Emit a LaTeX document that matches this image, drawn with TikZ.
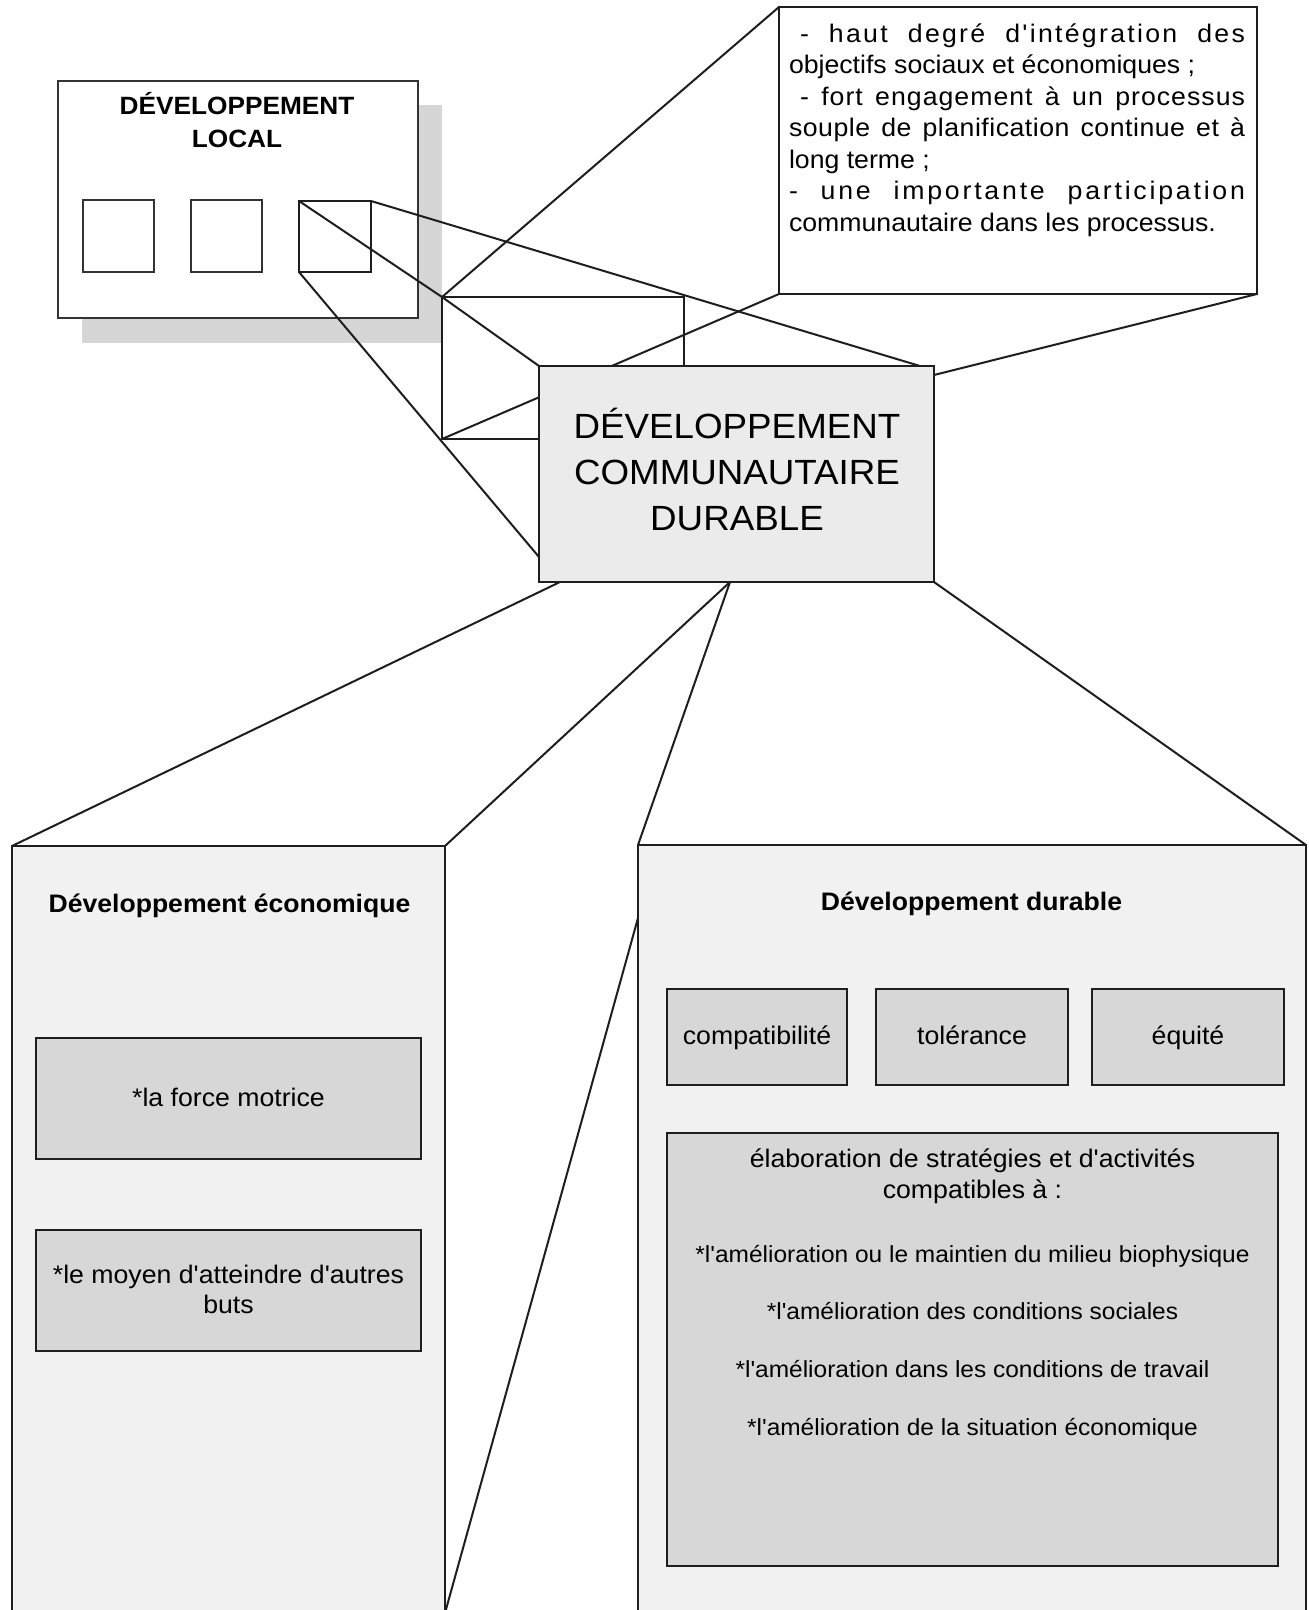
\documentclass[tikz,border=0pt]{standalone}
\usepackage{fontspec}
\setmainfont{Liberation Sans}[FakeStretch=1.05, Ligatures=TeXOff]

\definecolor{shadowgray}{HTML}{D6D6D6}
\definecolor{cenfill}{HTML}{EBEBEB}
\definecolor{panelfill}{HTML}{F1F1F1}
\definecolor{itemfill}{HTML}{D7D7D7}
\definecolor{inkline}{HTML}{1E1E1E}

\pgfdeclarelayer{base}
\pgfdeclarelayer{links}
\pgfsetlayers{base,links,main}

\begin{document}
\begin{tikzpicture}[x=1pt, y=-1pt,
  every node/.style={outer sep=0pt, inner sep=0pt},
  frame/.style={draw=inkline, line width=2pt},
  thinframe/.style={draw=black!80, line width=1.3pt},
  link/.style={draw=inkline, line width=2pt},
  boxat/.style 2 args={minimum width=#1pt, minimum height=#2pt},
  bigtxt/.style={font=\fontsize{35}{42}\selectfont},
  localtxt/.style={font=\bfseries\fontsize{25}{30}\selectfont},
  notetxt/.style={font=\fontsize{25.4}{30}\selectfont, anchor=base west},
  btitle/.style={font=\bfseries\fontsize{25.3}{30}\selectfont, anchor=base},
  itemtxt/.style={font=\fontsize{25.4}{30}\selectfont, anchor=base},
  smalltxt/.style={font=\fontsize{23.3}{28}\selectfont, anchor=base},
]
\useasboundingbox (0,0) rectangle (1309,1610);

% ---- local development panel with its drop shadow
\begin{pgfonlayer}{base}
  \fill[white] (0,0) rectangle (1309,1610);
  \node[fill=shadowgray, boxat={360}{238}] (shadow) at (262,224) {};
  \node[thinframe, fill=white, boxat={360}{237}] (local) at (238,199.5) {};
  \node[localtxt, anchor=base] (localA) at (237,114) {DÉVELOPPEMENT};
  \node[localtxt, anchor=base] (localB) at (237,147) {LOCAL};
  \node[thinframe, boxat={71}{72}] (sqA) at (118.5,236) {};
  \node[thinframe, boxat={71}{72}] (sqB) at (226.5,236) {};
  \node[frame, boxat={72}{71}] (sqC) at (335,236.5) {};
  % enlarged view of the third square
  \node[frame, boxat={242}{142}] (zoomrect) at (563,368) {};
\end{pgfonlayer}

% ---- central box
\node[frame, fill=cenfill, boxat={395}{216}] (cen) at (736.5,474) {};
\node[bigtxt, anchor=base] (cenA) at (737,438) {DÉVELOPPEMENT};
\node[bigtxt, anchor=base] (cenB) at (737,484) {COMMUNAUTAIRE};
\node[bigtxt, anchor=base] (cenC) at (737,530) {DURABLE};

% ---- note box
\node[frame, fill=white, boxat={478}{287}] (note) at (1018,150.5) {};
\node[notetxt] (noteA) at (789,42) {\addfontfeature{LetterSpace=9}\makebox[456pt][s]{\kern11pt - haut degré d'intégration des}};
\node[notetxt] (noteB) at (789,73.5) {objectifs sociaux et économiques ;};
\node[notetxt] (noteC) at (789,105) {\addfontfeature{LetterSpace=4}\makebox[456pt][s]{\kern11pt - fort engagement à un processus}};
\node[notetxt] (noteD) at (789,136.5) {\addfontfeature{LetterSpace=2}\makebox[456pt][s]{souple de planification continue et à}};
\node[notetxt] (noteE) at (789,168) {long terme ;};
\node[notetxt] (noteF) at (789,199.5) {\addfontfeature{LetterSpace=11}\makebox[456pt][s]{- une importante participation}};
\node[notetxt] (noteG) at (789,231) {communautaire dans les processus.};

% ---- economic development panel
\node[frame, fill=panelfill, boxat={433}{767}] (eco) at (228.5,1229.5) {};
\node[btitle] (ecoT) at (229.5,912) {Développement économique};
\node[frame, fill=itemfill, boxat={385}{121}] (ecoA) at (228.5,1098.5) {};
\node[itemtxt] (ecoAt) at (228.5,1106) {*la force motrice};
\node[frame, fill=itemfill, boxat={385}{121}] (ecoB) at (228.5,1290.5) {};
\node[itemtxt] (ecoBt1) at (228.5,1283) {*le moyen d'atteindre d'autres};
\node[itemtxt] (ecoBt2) at (228.5,1313) {buts};

% ---- sustainable development panel
\node[frame, fill=panelfill, boxat={668}{768}] (dura) at (972,1229) {};
\node[btitle] (duraT) at (971.5,910) {Développement durable};
\node[frame, fill=itemfill, boxat={180}{96}] (duraA) at (757,1037) {};
\node[itemtxt] (duraAt) at (757,1044) {compatibilité};
\node[frame, fill=itemfill, boxat={192}{96}] (duraB) at (972,1037) {};
\node[itemtxt] (duraBt) at (972,1044) {tolérance};
\node[frame, fill=itemfill, boxat={192}{96}] (duraC) at (1188,1037) {};
\node[itemtxt] (duraCt) at (1188,1044) {équité};
\node[frame, fill=itemfill, boxat={611}{433}] (duraD) at (972.5,1349.5) {};
\node[itemtxt] (duraD1) at (972.5,1167) {élaboration de stratégies et d'activités};
\node[itemtxt] (duraD2) at (972.5,1198) {compatibles à :};
\node[smalltxt] (duraD3) at (972.5,1262) {*l'amélioration ou le maintien du milieu biophysique};
\node[smalltxt] (duraD4) at (972.5,1319) {*l'amélioration des conditions sociales};
\node[smalltxt] (duraD5) at (972.5,1377) {*l'amélioration dans les conditions de travail};
\node[smalltxt] (duraD6) at (972.5,1435) {*l'amélioration de la situation économique};

% ---- connectors (drawn beneath the boxes)
\coordinate (cenTop) at (920,366);
\coordinate (cenLeft) at (539,557);
\coordinate (cenRight) at (934,375);
\coordinate (cenBotA) at (560,582);
\coordinate (cenBotB) at (730,582);
\coordinate (duraEdge) at (638,918);
\begin{pgfonlayer}{links}
  \draw[link] (sqC.north west) -- (zoomrect.north west) -- (cen.north west);
  \draw[link] (sqC.north east) -- (cenTop);
  \draw[link] (sqC.south west) -- (cenLeft);
  \draw[link] (zoomrect.north west) -- (note.north west);
  \draw[link] (zoomrect.south west) -- (note.south west);
  \draw[link] (note.south east) -- (cenRight);
  \draw[link] (cenBotA) -- (eco.north west);
  \draw[link] (cenBotB) -- (eco.north east);
  \draw[link] (cenBotB) -- (dura.north west);
  \draw[link] (duraEdge) -- (eco.south east);
  \draw[link] (cen.south east) -- (dura.north east);
\end{pgfonlayer}
\end{tikzpicture}
\end{document}
